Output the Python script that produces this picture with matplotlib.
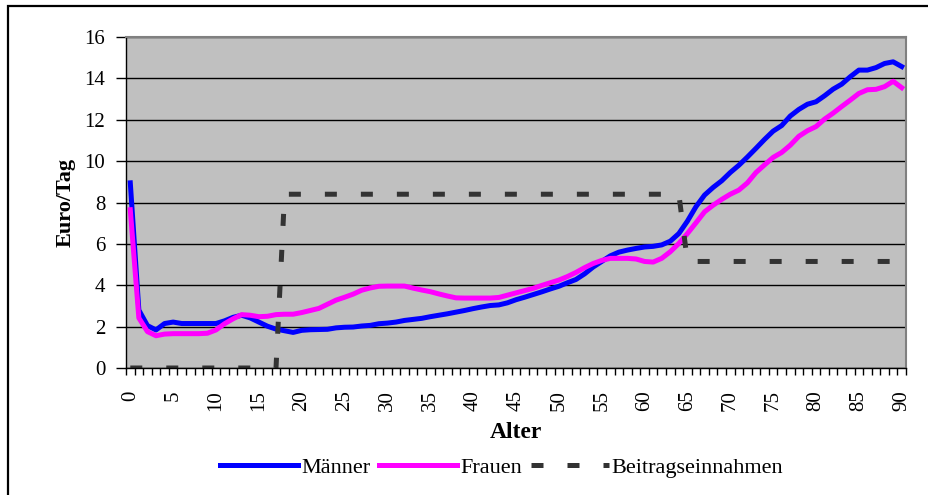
import numpy as np
import matplotlib
matplotlib.use("Agg")
from matplotlib import pyplot as plt
from matplotlib.patches import Rectangle

# Alter 0..90
alter = list(range(91))

# Leistungsausgaben Männer (Euro/Tag)
maenner = [8.95, 2.8, 2.05, 1.84, 2.15, 2.22, 2.15, 2.15, 2.15, 2.15,
           2.15, 2.28, 2.45, 2.55, 2.42, 2.22, 2.02, 1.88, 1.8, 1.72,
           1.82, 1.85, 1.86, 1.87, 1.94, 1.97, 1.98, 2.03, 2.06, 2.14,
           2.17, 2.22, 2.3, 2.35, 2.4, 2.48, 2.55, 2.62, 2.7, 2.78,
           2.87, 2.95, 3.02, 3.05, 3.15, 3.3, 3.42, 3.55, 3.68, 3.82,
           3.95, 4.12, 4.28, 4.55, 4.88, 5.15, 5.42, 5.6, 5.7, 5.78,
           5.85, 5.88, 5.95, 6.13, 6.5, 7.1, 7.8, 8.36, 8.73, 9.05,
           9.45, 9.8, 10.2, 10.62, 11.05, 11.45, 11.72, 12.18, 12.5, 12.75,
           12.87, 13.16, 13.48, 13.72, 14.08, 14.4, 14.4, 14.52, 14.72, 14.8,
           14.57]

# Leistungsausgaben Frauen (Euro/Tag)
frauen = [7.65, 2.42, 1.76, 1.56, 1.64, 1.66, 1.66, 1.66, 1.66, 1.68,
          1.84, 2.14, 2.38, 2.58, 2.55, 2.48, 2.5, 2.58, 2.6, 2.6,
          2.68, 2.78, 2.88, 3.08, 3.28, 3.42, 3.57, 3.76, 3.87, 3.95,
          3.96, 3.96, 3.96, 3.86, 3.77, 3.69, 3.58, 3.48, 3.39, 3.38,
          3.38, 3.38, 3.38, 3.41, 3.52, 3.63, 3.74, 3.85, 3.99, 4.12,
          4.25, 4.42, 4.62, 4.85, 5.05, 5.2, 5.3, 5.3, 5.3, 5.27,
          5.15, 5.12, 5.3, 5.62, 6.02, 6.5, 7.02, 7.55, 7.87, 8.15,
          8.4, 8.6, 8.95, 9.45, 9.82, 10.18, 10.42, 10.77, 11.2, 11.47,
          11.67, 12.03, 12.32, 12.64, 12.95, 13.27, 13.45, 13.47, 13.6, 13.86,
          13.55]

# Beitragseinnahmen (Euro/Tag)
beitrag = [0.0] * 18 + [8.4] * 47 + [5.15] * 26

yticks = [0, 2, 4, 6, 8, 10, 12, 14, 16]
xticks = list(range(0, 91, 5))

plt.rcParams['font.family'] = ['Liberation Serif', 'DejaVu Serif']
plt.rcParams['font.size'] = 15

fig = plt.figure(figsize=(9.29, 4.95), dpi=100)
ax = fig.add_axes([126 / 929, 1 - 368 / 495, 780 / 929, 331 / 495])

# äußerer Rahmen
fig.patches.append(Rectangle((8 / 929, -0.2), 1.2, 0.2 + 1 - 6 / 495,
                             transform=fig.transFigure, fill=False,
                             edgecolor='black', linewidth=1.6))

ax.set_facecolor('#c0c0c0')
for s in ax.spines.values():
    s.set_color('#808080')
    s.set_linewidth(1.5)
ax.spines['left'].set_color('black')
ax.spines['left'].set_linewidth(1.0)
ax.spines['bottom'].set_color('black')
ax.spines['bottom'].set_linewidth(1.0)

ax.plot(alter, maenner, color='#0000ff', lw=3.6, solid_joinstyle='round',
        label='Männer')
ax.plot(alter, frauen, color='#ff00ff', lw=3.6, solid_joinstyle='round',
        label='Frauen')
ax.plot(alter, beitrag, color='#333333', lw=3.6, dashes=(2.4, 4.8),
        dash_capstyle='butt', label='Beitragseinnahmen')

ax.set_xlim(-0.5, 90.5)
ax.set_ylim(0, 16)
ax.set_yticks(yticks)
ax.yaxis.grid(True, color='black', lw=1.0)
ax.set_axisbelow(True)

ax.set_xticks(xticks)
ax.set_xticklabels([str(v) for v in xticks], rotation=90)
ax.set_xticks(np.arange(-0.5, 91, 1), minor=True)
ax.tick_params(axis='x', which='major', length=0, pad=16)
ax.tick_params(axis='x', which='minor', length=5, width=1, color='black')
ax.tick_params(axis='y', length=7, width=1, pad=8)

ax.set_xlabel('Alter', fontweight='bold', fontsize=17, labelpad=8)
ax.set_ylabel('Euro/Tag', fontweight='bold', fontsize=16, labelpad=6)

fig.legend(loc='center', bbox_to_anchor=(0.54, 0.055), ncol=3, frameon=False,
           handlelength=3.5, handletextpad=0.15, columnspacing=0.4,
           fontsize=16)

fig.savefig('out.png', dpi=100)
